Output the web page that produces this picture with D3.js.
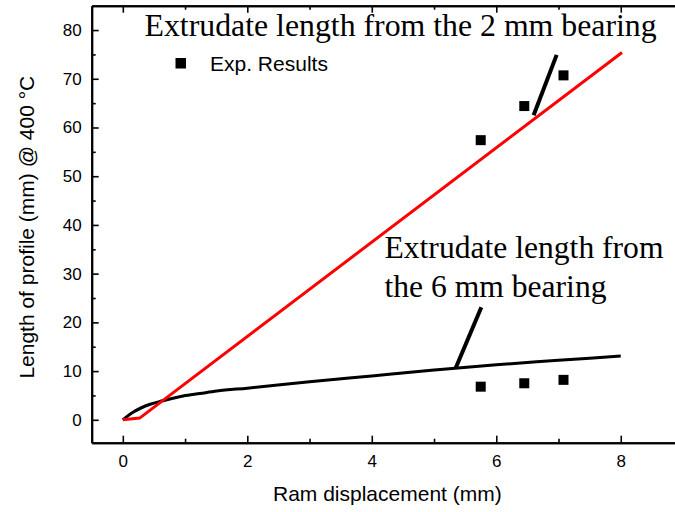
<!DOCTYPE html>
<html>
<head>
<meta charset="utf-8">
<script src="https://cdn.jsdelivr.net/npm/d3@7"></script>
<style>
  html, body { margin: 0; padding: 0; background: #fff; }
  svg { display: block; }
  .tick text { font-family: "Liberation Sans", Arial, sans-serif; font-size: 17px; fill: #000; }
</style>
</head>
<body>
<svg id="chart" width="675" height="512"></svg>
<script>
// Experimental extrudate lengths (mm) at given ram displacements (mm)
const expDisp = [5.75, 6.45, 7.08];
const exp2mm = [57.4, 64.4, 70.7];
const exp6mm = [6.8, 7.5, 8.2];

// Simulated extrudate length from the 2 mm bearing
const sim2mmX = [0, 0.27, 8.02];
const sim2mmY = [0, 0.35, 75.4];

// Simulated extrudate length from the 6 mm bearing
const sim6mmX = [0, 0.17, 0.44, 0.64, 0.97, 1.24, 1.51, 2, 3, 4, 5, 6, 7, 8];
const sim6mmY = [0, 1.6, 3.2, 3.9, 4.9, 5.4, 5.9, 6.5, 7.8, 9.0, 10.2, 11.3, 12.2, 13.1];

// Axis ticks
const xTicks = [0, 2, 4, 6, 8];
const xMinor = [1, 3, 5, 7];
const yTicks = [0, 10, 20, 30, 40, 50, 60, 70, 80];
const yMinor = [5, 15, 25, 35, 45, 55, 65, 75];

const svg = d3.select("#chart");
const plotL = 91.7, plotR = 683, plotT = 5.7, plotB = 442.7;

const x = d3.scaleLinear().domain([-0.5, 9.0]).range([plotL, plotR]);
const y = d3.scaleLinear().domain([-4.7, 85]).range([plotB, plotT]);

// Axes with inward-pointing ticks
function styleAxis(g) {
  g.select(".domain").attr("stroke", "#000").attr("stroke-width", 2);
  g.selectAll(".tick line").attr("stroke", "#000").attr("stroke-width", 1.6);
}

svg.append("g").attr("transform", `translate(0,${plotB})`)
  .call(d3.axisBottom(x).tickValues(xTicks).tickSizeInner(-7).tickSizeOuter(0).tickPadding(12).tickFormat(d3.format("d")))
  .call(styleAxis);
svg.append("g").attr("transform", `translate(0,${plotB})`)
  .call(d3.axisBottom(x).tickValues(xMinor).tickSizeInner(-4).tickSizeOuter(0).tickFormat(""))
  .call(styleAxis);

svg.append("g").attr("transform", `translate(0,${plotT})`)
  .call(d3.axisTop(x).tickValues(xTicks).tickSizeInner(-7).tickSizeOuter(0).tickFormat(""))
  .call(styleAxis);
svg.append("g").attr("transform", `translate(0,${plotT})`)
  .call(d3.axisTop(x).tickValues(xMinor).tickSizeInner(-4).tickSizeOuter(0).tickFormat(""))
  .call(styleAxis);

svg.append("g").attr("transform", `translate(${plotL},0)`)
  .call(d3.axisLeft(y).tickValues(yTicks).tickSizeInner(-7).tickSizeOuter(0).tickPadding(10).tickFormat(d3.format("d")))
  .call(styleAxis);
svg.append("g").attr("transform", `translate(${plotL},0)`)
  .call(d3.axisLeft(y).tickValues(yMinor).tickSizeInner(-4).tickSizeOuter(0).tickFormat(""))
  .call(styleAxis);

// Axis titles
svg.append("text")
  .attr("x", (plotL + plotR) / 2).attr("y", 500.5)
  .attr("text-anchor", "middle")
  .style("font-family", "'Liberation Sans', Arial, sans-serif").style("font-size", "21px")
  .text("Ram displacement (mm)");
svg.append("text")
  .attr("transform", `translate(33.5,${(plotT + plotB) / 2 + 3}) rotate(-90)`)
  .attr("text-anchor", "middle")
  .style("font-family", "'Liberation Sans', Arial, sans-serif").style("font-size", "21px")
  .text("Length of profile (mm) @ 400 °C");

// Simulation curves
svg.append("path")
  .datum(sim6mmX.map((v, i) => [v, sim6mmY[i]]))
  .attr("d", d3.line().x(d => x(d[0])).y(d => y(d[1])).curve(d3.curveMonotoneX))
  .attr("fill", "none").attr("stroke", "#000").attr("stroke-width", 3);
svg.append("path")
  .datum(sim2mmX.map((v, i) => [v, sim2mmY[i]]))
  .attr("d", d3.line().x(d => x(d[0])).y(d => y(d[1])))
  .attr("fill", "none").attr("stroke", "#ff0000").attr("stroke-width", 3);

// Experimental points
const sq = 10;
const pts = expDisp.map((v, i) => [v, exp2mm[i]]).concat(expDisp.map((v, i) => [v, exp6mm[i]]));
svg.append("g").selectAll("rect").data(pts).join("rect")
  .attr("x", d => x(d[0]) - sq / 2).attr("y", d => y(d[1]) - sq / 2)
  .attr("width", sq).attr("height", sq).attr("fill", "#000");

// Legend
svg.append("rect").attr("x", 175.5).attr("y", 58).attr("width", 10.5).attr("height", 10.5).attr("fill", "#000");
svg.append("text").attr("x", 210).attr("y", 71)
  .style("font-family", "'Liberation Sans', Arial, sans-serif").style("font-size", "21px")
  .text("Exp. Results");

// Annotations with pointer lines
const serif = "'Liberation Serif', 'Times New Roman', serif";
svg.append("line")
  .attr("x1", x(6.97)).attr("y1", y(74.9)).attr("x2", x(6.6)).attr("y2", y(62.5))
  .attr("stroke", "#000").attr("stroke-width", 4);
svg.append("line")
  .attr("x1", x(5.76)).attr("y1", y(23.1)).attr("x2", x(5.35)).attr("y2", y(10.7))
  .attr("stroke", "#000").attr("stroke-width", 4);

svg.append("text").attr("x", 144.5).attr("y", 35.7)
  .style("font-family", serif).style("font-size", "31.8px")
  .text("Extrudate length from the 2 mm bearing");
svg.append("text").attr("x", 384.5).attr("y", 258.3)
  .style("font-family", serif).style("font-size", "31.6px")
  .text("Extrudate length from");
svg.append("text").attr("x", 384.5).attr("y", 296.7)
  .style("font-family", serif).style("font-size", "31.6px")
  .text("the 6 mm bearing");
</script>
</body>
</html>
